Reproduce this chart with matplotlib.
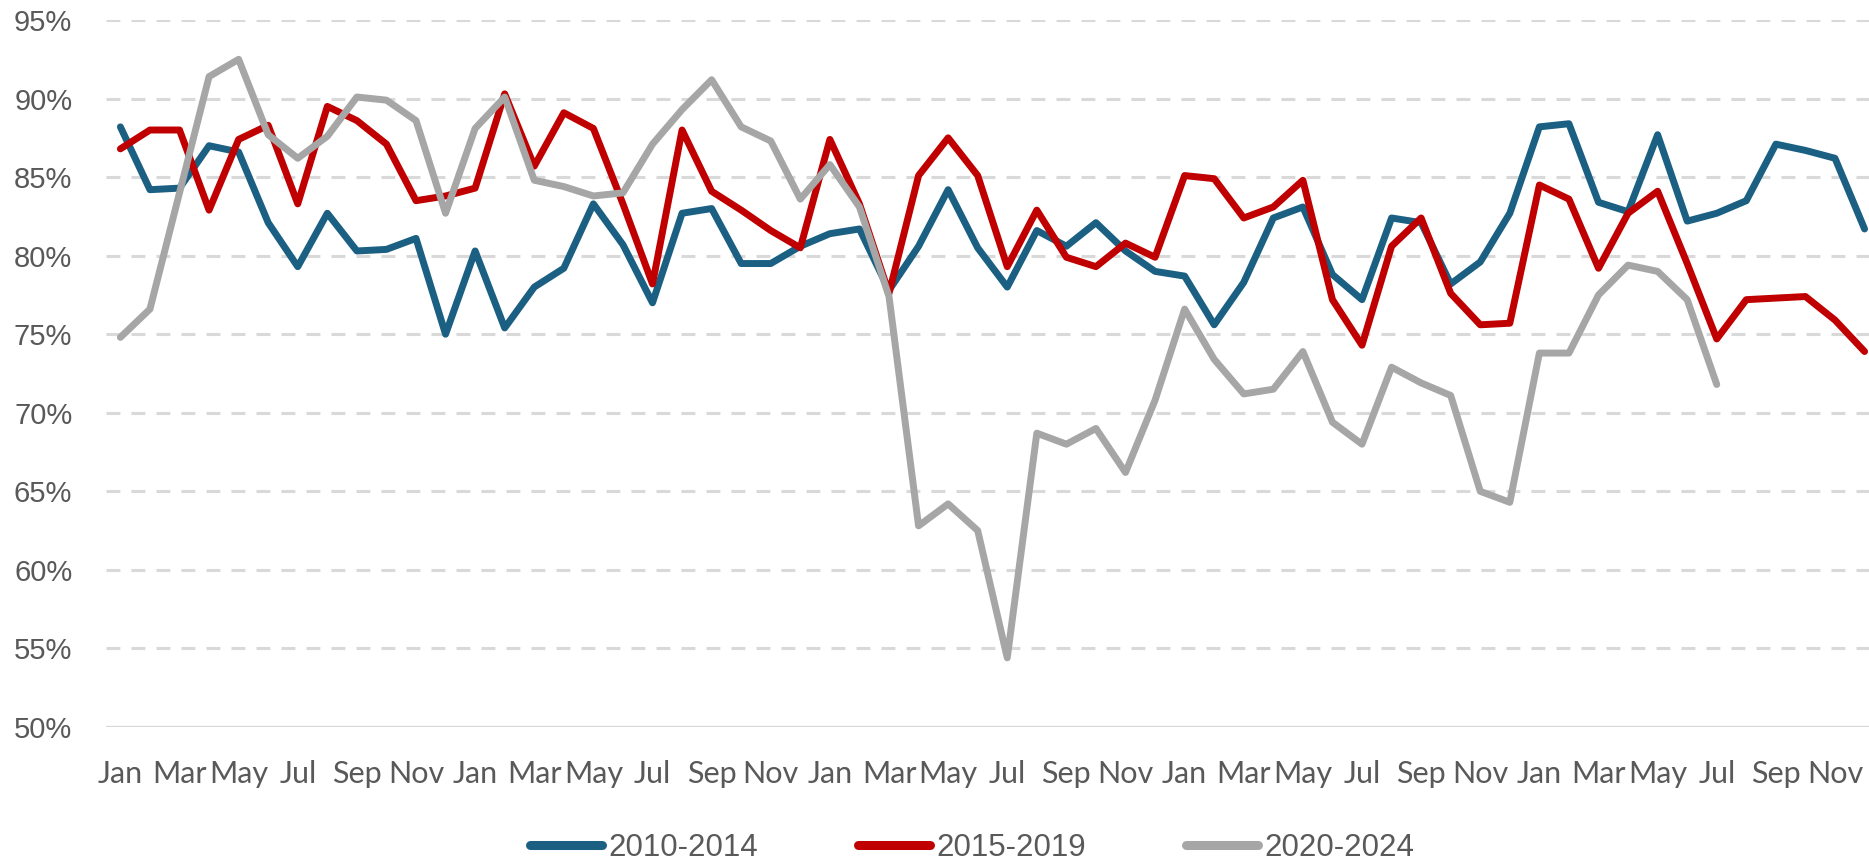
import matplotlib
matplotlib.use("Agg")
import matplotlib.pyplot as plt
import numpy as np

# monthly values, 5 years each (Jan..Dec x 5)
months = ["Jan", "Feb", "Mar", "Apr", "May", "Jun", "Jul", "Aug", "Sep", "Oct", "Nov", "Dec"]

s2010_2014 = [88.2, 84.2, 84.3, 87.0, 86.6, 82.1, 79.3, 82.7, 80.3, 80.4, 81.1, 75.0,
              80.3, 75.4, 78.0, 79.2, 83.3, 80.7, 77.0, 82.7, 83.0, 79.5, 79.5, 80.6,
              81.4, 81.7, 77.8, 80.6, 84.2, 80.5, 78.0, 81.6, 80.6, 82.1, 80.3, 79.0,
              78.7, 75.6, 78.3, 82.4, 83.1, 78.8, 77.2, 82.4, 82.1, 78.2, 79.6, 82.7,
              88.2, 88.4, 83.4, 82.8, 87.7, 82.2, 82.7, 83.5, 87.1, 86.7, 86.2, 81.7]

s2015_2019 = [86.8, 88.0, 88.0, 82.9, 87.4, 88.3, 83.3, 89.5, 88.6, 87.1, 83.5, 83.8,
              84.3, 90.3, 85.7, 89.1, 88.1, 83.3, 78.2, 88.0, 84.1, 82.9, 81.6, 80.5,
              87.4, 83.3, 77.6, 85.1, 87.5, 85.1, 79.3, 82.9, 79.9, 79.3, 80.8, 79.9,
              85.1, 84.9, 82.4, 83.1, 84.8, 77.2, 74.3, 80.6, 82.4, 77.6, 75.6, 75.7,
              84.5, 83.6, 79.2, 82.7, 84.1, 79.5, 74.7, 77.2, 77.3, 77.4, 75.9, 73.9]

s2020_2024 = [74.8, 76.6, 84.0, 91.4, 92.5, 87.7, 86.2, 87.6, 90.1, 89.9, 88.6, 82.7,
              88.1, 90.1, 84.8, 84.4, 83.8, 84.0, 87.1, 89.3, 91.2, 88.2, 87.3, 83.6,
              85.8, 83.1, 77.4, 62.8, 64.2, 62.5, 54.4, 68.7, 68.0, 69.0, 66.2, 70.8,
              76.6, 73.4, 71.2, 71.5, 73.9, 69.4, 68.0, 72.9, 71.9, 71.1, 65.0, 64.3,
              73.8, 73.8, 77.5, 79.4, 79.0, 77.2, 71.8]

labels = ["2010-2014", "2015-2019", "2020-2024"]
colors = ["#1B6082", "#C00000", "#A6A6A6"]

plt.rcParams["lines.scale_dashes"] = False

fig = plt.figure(figsize=(18.69, 8.6), dpi=100)
ax = fig.add_axes([0.0565, 0.1547, 0.9435, 0.822])

x = np.arange(60)
for vals, lab, col in zip([s2010_2014, s2015_2019, s2020_2024], labels, colors):
    ax.plot(x[:len(vals)], np.array(vals) / 100, color=col, lw=5.0, label=lab,
            solid_joinstyle="round", solid_capstyle="round", clip_on=False)

ax.set_xlim(-0.5, 59.15)
ax.set_ylim(0.5, 0.95)

yt = np.arange(0.50, 0.951, 0.05)
ax.set_yticks(yt)
ax.set_yticklabels([f"{int(round(v*100))}%" for v in yt], fontfamily="Liberation Sans",
                   fontsize=21, color="#595959")
ax.set_xticks(x[::2])
ax.set_xticklabels((months * 5)[::2], fontfamily="Lato", fontsize=22, color="#595959")
ax.tick_params(axis="y", length=0, pad=24)
ax.tick_params(axis="x", length=0, pad=24)

for v in yt[1:]:
    ax.axhline(v, color="#D9D9D9", lw=2.2, ls=(0, (10, 8)), zorder=0)
ax.axhline(0.5, color="#D9D9D9", lw=2.4, zorder=0)

for s in ax.spines.values():
    s.set_visible(False)

leg = fig.legend(loc="center", bbox_to_anchor=(972 / 1869, 1 - 848 / 860), ncol=3, frameon=False,
                 prop={"family": "Liberation Sans", "size": 22.5}, labelcolor="#595959",
                 handlelength=2.3, handletextpad=0.2, columnspacing=3.2)
for h in leg.get_lines():
    h.set_linewidth(6.5)

fig.savefig("out.png", dpi=100)
